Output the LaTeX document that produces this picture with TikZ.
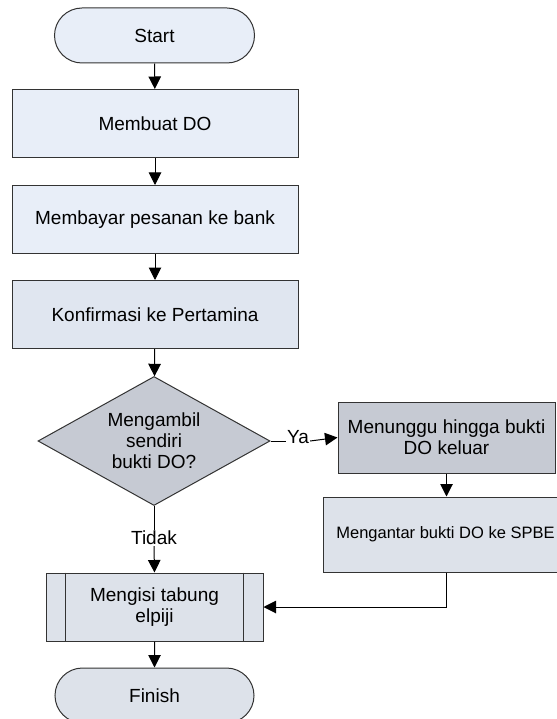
\documentclass[tikz,border=0pt]{standalone}
\usepackage{fontspec}
\setmainfont{Liberation Sans}
\usetikzlibrary{shapes.geometric,shapes.misc,arrows.meta}

\definecolor{boxfill}{HTML}{E8EEF8}
\definecolor{boxfillb}{HTML}{E0E6F0}
\definecolor{greyfill}{HTML}{C6CAD3}
\definecolor{midfill}{HTML}{DDE2EA}
\definecolor{edge}{HTML}{333333}

\tikzset{
  base/.style={draw=edge, line width=1pt, text=black, align=center,
    font=\fontsize{19}{21}\selectfont, inner sep=2pt},
  terminal/.style={base, rounded rectangle, minimum width=204pt, minimum height=55pt},
  process/.style={base, rectangle, minimum width=286pt, minimum height=68pt},
  decision/.style={base, diamond, aspect=1.8, minimum width=232pt, minimum height=129pt, inner sep=0pt},
  arr/.style={draw=black, line width=1pt, -{Triangle[length=12.5pt,width=12.5pt]}},
  plain/.style={draw=black, line width=1pt},
  lbl/.style={font=\fontsize{19}{21}\selectfont, inner sep=1pt}
}

\begin{document}
\begin{tikzpicture}[x=1pt, y=-1pt]
\useasboundingbox (0,0) rectangle (556,719);
\fill[white] (0,0) rectangle (556,719);

% main column
\node[terminal, fill=boxfill] (start) at (154.5,35.5) {Start};
\node[process, fill=boxfill] (buat) at (155,123.5) {Membuat DO};
\node[process, fill=boxfill] (bayar) at (155,219.5) {Membayar pesanan ke bank};
\node[process, fill=boxfillb] (konf) at (155,314.5) {Konfirmasi ke Pertamina};
\node[decision, fill=greyfill] (ambil) at (154,441) {Mengambil\\sendiri\\bukti DO?};

% branch on the right
\node[process, fill=greyfill, minimum width=217pt, minimum height=71pt] (tunggu) at (446.5,437.5)
  {Menunggu hingga bukti\\DO keluar};
\node[process, fill=midfill, minimum width=245pt, minimum height=75pt,
  font=\fontsize{16.5}{19}\selectfont] (antar) at (445.5,534.5) {Mengantar bukti DO ke SPBE};

% predefined process and end
\node[process, fill=midfill, minimum width=217pt, minimum height=68pt] (isi) at (154.5,607)
  {Mengisi tabung\\elpiji};
\draw[edge, line width=1pt] ([xshift=20pt]isi.north west) -- ([xshift=20pt]isi.south west);
\draw[edge, line width=1pt] ([xshift=-20pt]isi.north east) -- ([xshift=-20pt]isi.south east);
\node[terminal, fill=midfill, minimum width=203pt] (finish) at (154.5,695.5) {Finish};

% branch labels
\node[lbl] (ya) at (298,437) {Ya};
\node[lbl] (tidak) at (154,538) {Tidak};

% connectors
\draw[arr] (start) -- (buat);
\draw[arr] (buat) -- (bayar);
\draw[arr] (bayar) -- (konf);
\draw[arr] (konf) -- (ambil);
\draw[plain] (ambil.east) -- (ambil.east -| ya.west);
\draw[arr] (ambil.east -| ya.east) -- (tunggu.west);
\draw[plain] (ambil.south) -- (tidak.north);
\draw[arr] (tidak.south) -- (isi.north);
\draw[arr] (tunggu.south) -- (tunggu.south |- antar.north);
\draw[arr] (antar.south -| tunggu.south) |- (isi.east);
\draw[arr] (isi) -- (finish);
\end{tikzpicture}
\end{document}
